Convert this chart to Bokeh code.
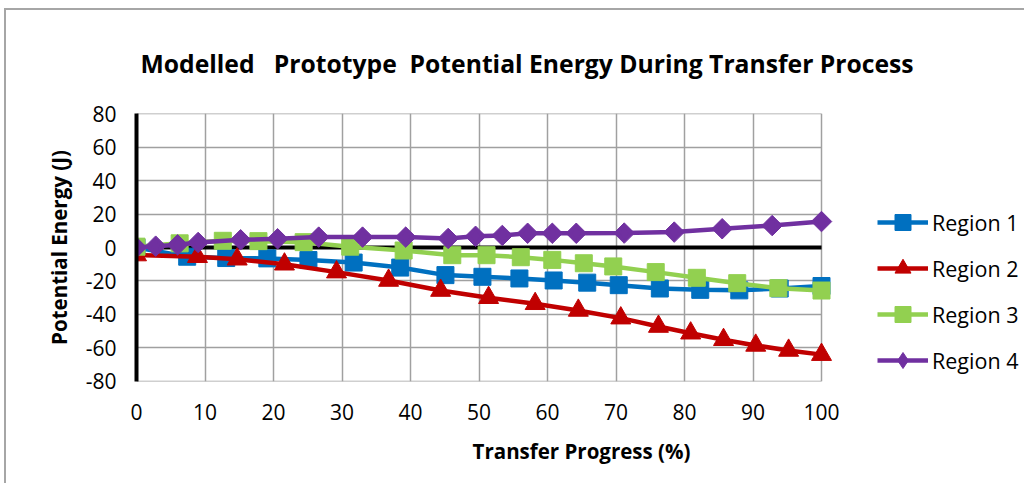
import math
from bokeh.plotting import figure
from bokeh.models import Legend, LegendItem, FixedTicker, PrintfTickFormatter
from bokeh.embed import file_html
from bokeh.resources import INLINE

# ---- data ----
r1_x = [0, 7.4, 13.1, 19.1, 25.1, 31.7, 38.5, 45.1, 50.5, 55.9, 60.9, 65.8, 70.4, 76.4, 82.3, 88.0, 93.9, 100]
r1_y = [0, -5.5, -6.3, -6.5, -7.5, -9, -12, -16.5, -17.5, -18.5, -19.7, -21, -22.5, -24.5, -25.3, -25.6, -24.5, -23]

r2_x = [0, 8.9, 14.7, 21.6, 29.2, 36.8, 44.4, 51.4, 58.2, 64.5, 70.7, 76.2, 80.9, 85.7, 90.4, 95.2, 100]
r2_y = [-4.5, -5.5, -7, -10, -14.7, -19.7, -25.7, -30, -33.6, -37.6, -42.2, -47.2, -51.2, -55.1, -58.5, -61.5, -64]

r3_x = [0, 6.3, 12.6, 17.8, 24.4, 31.2, 39.0, 46.1, 51.1, 56.1, 60.7, 65.3, 69.6, 75.8, 81.8, 87.7, 93.7, 100]
r3_y = [0.5, 2.5, 4, 3.8, 3.2, 0.5, -1.8, -4.6, -4.6, -5.8, -7.4, -9.4, -11.3, -14.7, -18.1, -21.3, -24.3, -25.7]

r4_x = [0, 2.8, 6.0, 9.0, 15.2, 20.6, 26.6, 33.0, 39.3, 45.5, 49.5, 53.4, 57.1, 60.7, 64.2, 71.2, 78.5, 85.5, 92.8, 100]
r4_y = [0, 0.8, 1.6, 3, 4.6, 5.2, 6.2, 6.2, 6.2, 5.4, 6.7, 7.2, 8.5, 8.5, 8.5, 8.6, 9.2, 11.2, 13.1, 15.5]

series_names = ["Region 1", "Region 2", "Region 3", "Region 4"]
x_ticks = [0, 10, 20, 30, 40, 50, 60, 70, 80, 90, 100]
y_ticks = [-80, -60, -40, -20, 0, 20, 40, 60, 80]

title_text = "Modelled \u00a0 Prototype \u00a0Potential Energy During Transfer Process"
x_title = "Transfer Progress (%)"
y_title = "Potential Energy (J)"

FONT = "Open Sans"

# ---- layout (pixels, page coordinates) ----
OX, OY = 6, 10                      # where the canvas starts (after the chart border)
W, H = 1020, 475
FRAME_L, FRAME_T = 136 - OX, 113 - OY
AXIS_R, FRAME_B = 821 - OX, 381 - OY  # where x=100 and y=-80 fall
x_lo, x_hi = x_ticks[0], x_ticks[-1]
x_end = x_lo + (x_hi - x_lo) * (W - FRAME_L) / (AXIS_R - FRAME_L)   # extra room on the right for the legend
pad = 0.05

p = figure(width=W, height=H, output_backend="svg", toolbar_location=None,
           x_range=(x_lo, x_end), y_range=(y_ticks[0] - pad, y_ticks[-1] + pad),
           min_border_left=FRAME_L, min_border_right=0, min_border_top=FRAME_T,
           min_border_bottom=H - FRAME_B, title=title_text)
p.styles = {"margin-left": "4px", "margin-top": "8px",
            "border-left": "2px solid #a6a6a6", "border-top": "2px solid #a6a6a6"}

p.title.text_font = FONT
p.title.text_font_size = "24.7px"
p.title.text_font_style = "bold"
p.title.text_color = "black"
p.title.align = "left"
p.title.offset = 4
p.title.standoff = 67

p.background_fill_color = "white"
p.border_fill_color = "white"
p.outline_line_color = None

# grid (limited to the plotting box 0..100)
for g in (p.xgrid, p.ygrid):
    g.grid_line_color = "#a0a0a0"
    g.grid_line_width = 1.5
p.xgrid.ticker = FixedTicker(ticks=x_ticks)
p.ygrid.ticker = FixedTicker(ticks=y_ticks)
p.ygrid.cross_bounds = (x_lo, x_hi)

# axes
p.xaxis.ticker = FixedTicker(ticks=x_ticks)
p.xaxis.bounds = (x_lo, x_hi)
p.yaxis.ticker = FixedTicker(ticks=y_ticks)
p.yaxis.formatter = PrintfTickFormatter(format="%d")
p.xaxis.axis_line_color = None
p.xaxis.major_tick_line_color = None
p.xaxis.minor_tick_line_color = None
p.yaxis.axis_line_color = "black"
p.yaxis.axis_line_width = 4
p.yaxis.major_tick_line_color = None
p.yaxis.minor_tick_line_color = None
for ax in (p.xaxis, p.yaxis):
    ax.major_label_text_font = FONT
    ax.major_label_text_font_size = "21px"
    ax.major_label_text_color = "black"
    ax.axis_label_text_font = FONT
    ax.axis_label_text_font_size = "20.5px"
    ax.axis_label_text_font_style = "bold"
    ax.axis_label_text_color = "black"
p.xaxis.axis_label = x_title
p.yaxis.axis_label = y_title
p.xaxis.major_label_standoff = 16
p.xaxis.axis_label_standoff = 14
p.yaxis.major_label_standoff = 14
p.yaxis.axis_label_standoff = 10

# horizontal zero axis line (x axis crossing at 0)
p.line([x_lo, x_hi], [0, 0], line_color="black", line_width=4)

colors = ["#0070C0", "#C00000", "#92D050", "#7030A0"]
markers = ["square", "triangle", "square", "square"]
sizes = [17, 20, 17, 14.5]
angles = [0, 0, 0, math.pi / 4]
legend_markers = ["square", "triangle", "square", "diamond"]
xs = [r1_x, r2_x, r3_x, r4_x]
ys = [r1_y, r2_y, r3_y, r4_y]

items = []
for name, xv, yv, c, m, s, a, lm in zip(series_names, xs, ys, colors, markers, sizes, angles, legend_markers):
    ln = p.line(xv, yv, line_color=c, line_width=4.5)
    sc = p.scatter(xv, yv, marker=m, size=s, angle=a, fill_color=c, line_color=c)
    if lm != m:
        # same points drawn as a smaller diamond inside the rotated square; used for the legend glyph
        lg = p.scatter(xv, yv, marker=lm, size=s * 0.9, fill_color=c, line_color=c)
        items.append(LegendItem(label=name, renderers=[ln, lg]))
    else:
        items.append(LegendItem(label=name, renderers=[ln, sc]))

legend = Legend(items=items, location=(741, 1), orientation="vertical",
                glyph_width=51, glyph_height=40, label_height=40, spacing=6,
                padding=0, margin=0, label_standoff=4,
                border_line_color=None, background_fill_alpha=0,
                label_text_font=FONT, label_text_font_size="21.5px", label_text_color="black")
p.add_layout(legend, "center")

open("out.html", "w").write(file_html(p, INLINE))
